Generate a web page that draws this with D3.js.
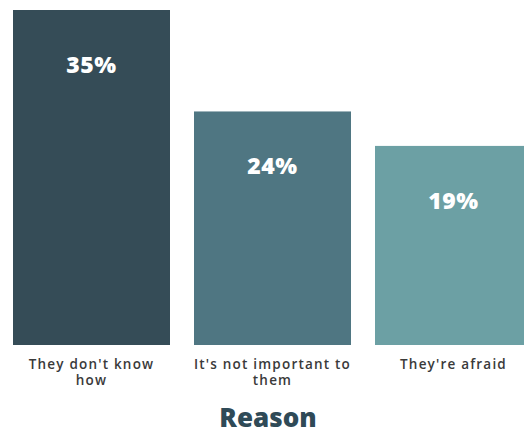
<!DOCTYPE html>
<html>
<head>
<meta charset="utf-8">
<script src="https://cdn.jsdelivr.net/npm/d3@7"></script>
<style>
  body { margin: 0; background: #fff; }
  svg { display: block; }
</style>
</head>
<body>
<div class="chart"></div>
<script>
// data
const categories = ["They don't know how", "It's not important to them", "They're afraid"]
const categoryLines = [["They don't know", "how"], ["It's not important to", "them"], ["They're afraid"]]
const barValues = [35, 24.4, 20.8]   // bar heights as drawn
const valueLabels = ["35%", "24%", "19%"]
const colors = ["#354c57", "#4f7682", "#6ca0a4"]
const axisTitle = "Reason"

const w = 524
const h = 434
const baseY = 345
const topY = 10

const svg = d3.select(".chart")
  .append("svg")
  .attr("width", w)
  .attr("height", h)

const x = d3.scaleBand()
  .domain(categories)
  .range([13, 532])
  .paddingInner(0.1326)
  .paddingOuter(0)

const y = d3.scaleLinear()
  .domain([0, 35])
  .range([baseY, topY])

// bars
svg.append("g")
  .selectAll("rect")
  .data(categories)
  .enter()
  .append("rect")
  .attr("x", d => x(d))
  .attr("y", (d, i) => y(barValues[i]))
  .attr("width", x.bandwidth())
  .attr("height", (d, i) => baseY - y(barValues[i]))
  .style("fill", (d, i) => colors[i])

// value labels inside bars
svg.append("g")
  .selectAll("text")
  .data(categories)
  .enter()
  .append("text")
  .attr("x", d => x(d) + x.bandwidth() / 2)
  .attr("y", (d, i) => y(barValues[i]) + 63)
  .attr("text-anchor", "middle")
  .style("font-family", "'Open Sans', sans-serif")
  .style("font-weight", 800)
  .style("font-size", "23px")
  .style("letter-spacing", "0.5px")
  .style("fill", "#fff")
  .text((d, i) => valueLabels[i])

// category labels
const cat = svg.append("g")
  .selectAll("text")
  .data(categories)
  .enter()
  .append("text")
  .attr("text-anchor", "middle")
  .style("font-family", "'Open Sans', sans-serif")
  .style("font-weight", 600)
  .style("font-size", "13.5px")
  .style("letter-spacing", "1.2px")
  .style("fill", "#3a3a3a")

cat.selectAll("tspan")
  .data((d, i) => categoryLines[i].map(t => ({ t, d })))
  .enter()
  .append("tspan")
  .attr("x", o => x(o.d) + x.bandwidth() / 2)
  .attr("y", (o, j) => 369 + j * 16)
  .text(o => o.t)

// axis title
svg.append("text")
  .attr("x", 268)
  .attr("y", 427)
  .attr("text-anchor", "middle")
  .style("font-family", "'Open Sans', sans-serif")
  .style("font-weight", 800)
  .style("font-size", "26px")
  .style("fill", "#2f4a57")
  .text(axisTitle)
</script>
</body>
</html>
